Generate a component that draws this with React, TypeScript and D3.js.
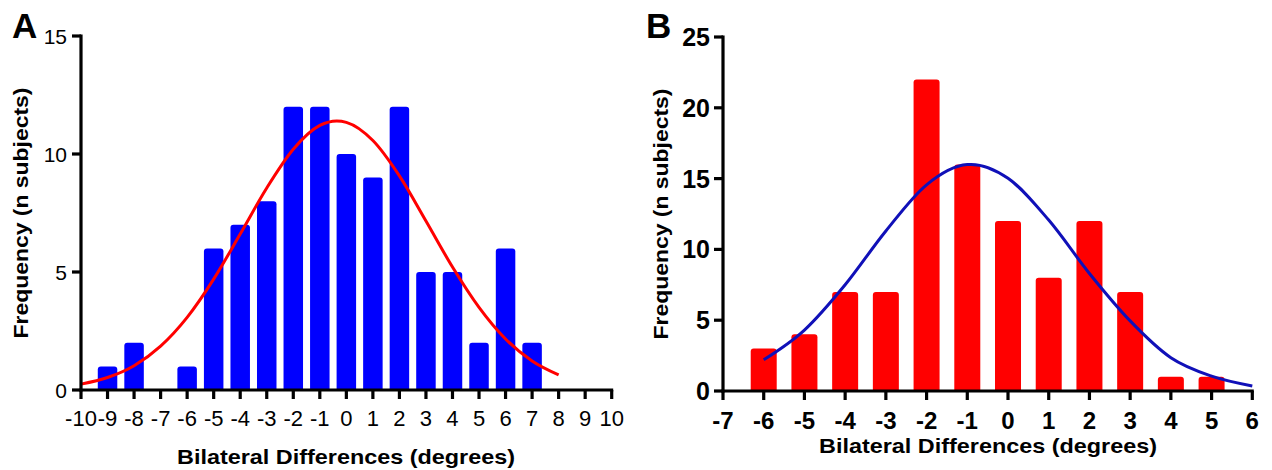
import React from "react";
import * as d3 from "d3";

// ---------- Panel A data ----------
const binsA = [-9, -8, -7, -6, -5, -4, -3, -2, -1, 0, 1, 2, 3, 4, 5, 6, 7];
const countsA = [1, 2, 0, 1, 6, 7, 8, 12, 12, 10, 9, 12, 5, 5, 2, 6, 2];
const curveAx = [-10, -9, -8, -7, -6, -5, -4, -3, -2, -1, -0.36, 0, 1, 2, 3, 4, 5, 6, 7, 8];
const curveAy = [0.25, 0.53, 1.03, 1.86, 3.08, 4.7, 6.61, 8.56, 10.2, 11.21, 11.4, 11.34, 10.57, 9.07, 7.16, 5.21, 3.5, 2.16, 1.23, 0.64];
const xTicksA = [-10, -9, -8, -7, -6, -5, -4, -3, -2, -1, 0, 1, 2, 3, 4, 5, 6, 7, 8, 9, 10];
const yTicksA = [0, 5, 10, 15];

// ---------- Panel B data ----------
const binsB = [-6, -5, -4, -3, -2, -1, 0, 1, 2, 3, 4, 5];
const countsB = [3, 4, 7, 7, 22, 16, 12, 8, 12, 7, 1, 1];
const curveBx = [-6, -5, -4, -3, -2, -1, -0.9, 0, 1, 2, 3, 4, 5, 6];
const curveBy = [2.2, 4.3, 7.5, 11.3, 14.56, 15.99, 16, 15.02, 12.07, 8.3, 4.95, 2.35, 1.05, 0.36];
const xTicksB = [-7, -6, -5, -4, -3, -2, -1, 0, 1, 2, 3, 4, 5, 6];
const yTicksB = [0, 5, 10, 15, 20, 25];

const xTitle = "Bilateral Differences (degrees)";
const yTitle = "Frequency (n subjects)";

const FONT = "'Liberation Sans', Arial, Helvetica, sans-serif";

function topRoundedBar(x0: number, x1: number, yTop: number, yBase: number, r: number) {
  const h = yBase - yTop;
  const rr = Math.min(r, h / 2, (x1 - x0) / 2);
  return `M${x0},${yBase} L${x0},${yTop + rr} Q${x0},${yTop} ${x0 + rr},${yTop} L${x1 - rr},${yTop} Q${x1},${yTop} ${x1},${yTop + rr} L${x1},${yBase} Z`;
}

type PanelProps = {
  letter: string;
  letterX: number;
  bins: number[];
  counts: number[];
  cx: number[];
  cy: number[];
  xTicks: number[];
  yTicks: number[];
  xDomain: [number, number];
  xRange: [number, number];
  yDomain: [number, number];
  yRange: [number, number];
  barW: number;
  barColor: string;
  curveColor: string;
  tickBold: boolean;
  xTickFont: number;
  yTickFont: number;
  xTickBaseline: number;
  yTickRight: number;
  xTitleBaseline: number;
  xTitleStart: number;
  xTitleEnd: number;
  yTitleX: number;
  yTitleCenter: number;
};

function Panel(p: PanelProps) {
  const x = d3.scaleLinear().domain(p.xDomain).range(p.xRange);
  const y = d3.scaleLinear().domain(p.yDomain).range(p.yRange);
  const base = y(0);
  const pts: [number, number][] = p.cx.map((v, i) => [x(v), y(p.cy[i])]);
  const line = d3.line().curve(d3.curveMonotoneX)(pts) || "";
  const tickLen = 9;
  const axisW = 3.2;
  return (
    <g>
      {p.bins.map((b, i) =>
        p.counts[i] > 0 ? (
          <path
            key={"bar" + i}
            d={topRoundedBar(x(b) - p.barW / 2, x(b) + p.barW / 2, y(p.counts[i]), base, 3)}
            fill={p.barColor}
          />
        ) : null
      )}
      <path d={line} fill="none" stroke={p.curveColor} strokeWidth={3} />
      {/* y axis */}
      <line x1={p.xRange[0]} x2={p.xRange[0]} y1={y(p.yDomain[1]) - 1.5} y2={base + 1.5} stroke="#000" strokeWidth={axisW} />
      {p.yTicks.map((t) => (
        <g key={"yt" + t}>
          <line x1={p.xRange[0] - tickLen} x2={p.xRange[0]} y1={y(t)} y2={y(t)} stroke="#000" strokeWidth={axisW} />
          <text
            x={p.yTickRight}
            y={y(t)}
            dy="0.36em"
            textAnchor="end"
            fontSize={p.yTickFont}
            fontWeight={p.tickBold ? "bold" : "normal"}
            fontFamily={FONT}
          >
            {t}
          </text>
        </g>
      ))}
      {/* x axis */}
      <line x1={p.xRange[0] - 1.5} x2={p.xRange[1] + 1.5} y1={base} y2={base} stroke="#000" strokeWidth={axisW} />
      {p.xTicks.map((t) => (
        <g key={"xt" + t}>
          <line x1={x(t)} x2={x(t)} y1={base} y2={base + tickLen} stroke="#000" strokeWidth={axisW} />
          <text
            x={x(t)}
            y={p.xTickBaseline}
            textAnchor="middle"
            fontSize={p.xTickFont}
            fontWeight={p.tickBold ? "bold" : "normal"}
            fontFamily={FONT}
          >
            {t}
          </text>
        </g>
      ))}
      <text
        x={p.xTitleStart}
        y={p.xTitleBaseline}
        fontSize={20.5}
        fontWeight="bold"
        fontFamily={FONT}
        textLength={p.xTitleEnd - p.xTitleStart}
        lengthAdjust="spacingAndGlyphs"
      >
        {xTitle}
      </text>
      <text
        transform={`translate(${p.yTitleX},${p.yTitleCenter}) rotate(-90)`}
        textAnchor="middle"
        fontSize={20.5}
        fontWeight="bold"
        fontFamily={FONT}
        textLength={251}
        lengthAdjust="spacingAndGlyphs"
      >
        {yTitle}
      </text>
      <text x={p.letterX} y={38} fontSize={35} fontWeight="bold" fontFamily={FONT}>
        {p.letter}
      </text>
    </g>
  );
}

export default function App() {
  return (
    <svg
      width={1272}
      height={470}
      viewBox="0 0 1272 470"
      style={{ position: "absolute", left: 0, top: 0, background: "#fff" }}
    >
      <rect width={1272} height={470} fill="#fff" />
      <Panel
        letter="A"
        letterX={12}
        bins={binsA}
        counts={countsA}
        cx={curveAx}
        cy={curveAy}
        xTicks={xTicksA}
        yTicks={yTicksA}
        xDomain={[-10, 10]}
        xRange={[81, 611.7]}
        yDomain={[0, 15]}
        yRange={[390, 36]}
        barW={19.5}
        barColor="#0000ff"
        curveColor="#ff0000"
        tickBold={false}
        xTickFont={22}
        yTickFont={21}
        xTickBaseline={426}
        yTickRight={67}
        xTitleBaseline={464}
        xTitleStart={177}
        xTitleEnd={515}
        yTitleX={28}
        yTitleCenter={213}
      />
      <Panel
        letter="B"
        letterX={646}
        bins={binsB}
        counts={countsB}
        cx={curveBx}
        cy={curveBy}
        xTicks={xTicksB}
        yTicks={yTicksB}
        xDomain={[-7, 6]}
        xRange={[723, 1252.3]}
        yDomain={[0, 25]}
        yRange={[391, 37]}
        barW={26}
        barColor="#ff0000"
        curveColor="#1010b8"
        tickBold={true}
        xTickFont={24}
        yTickFont={25}
        xTickBaseline={429}
        yTickRight={710}
        xTitleBaseline={453}
        xTitleStart={819}
        xTitleEnd={1157}
        yTitleX={668}
        yTitleCenter={214}
      />
    </svg>
  );
}
